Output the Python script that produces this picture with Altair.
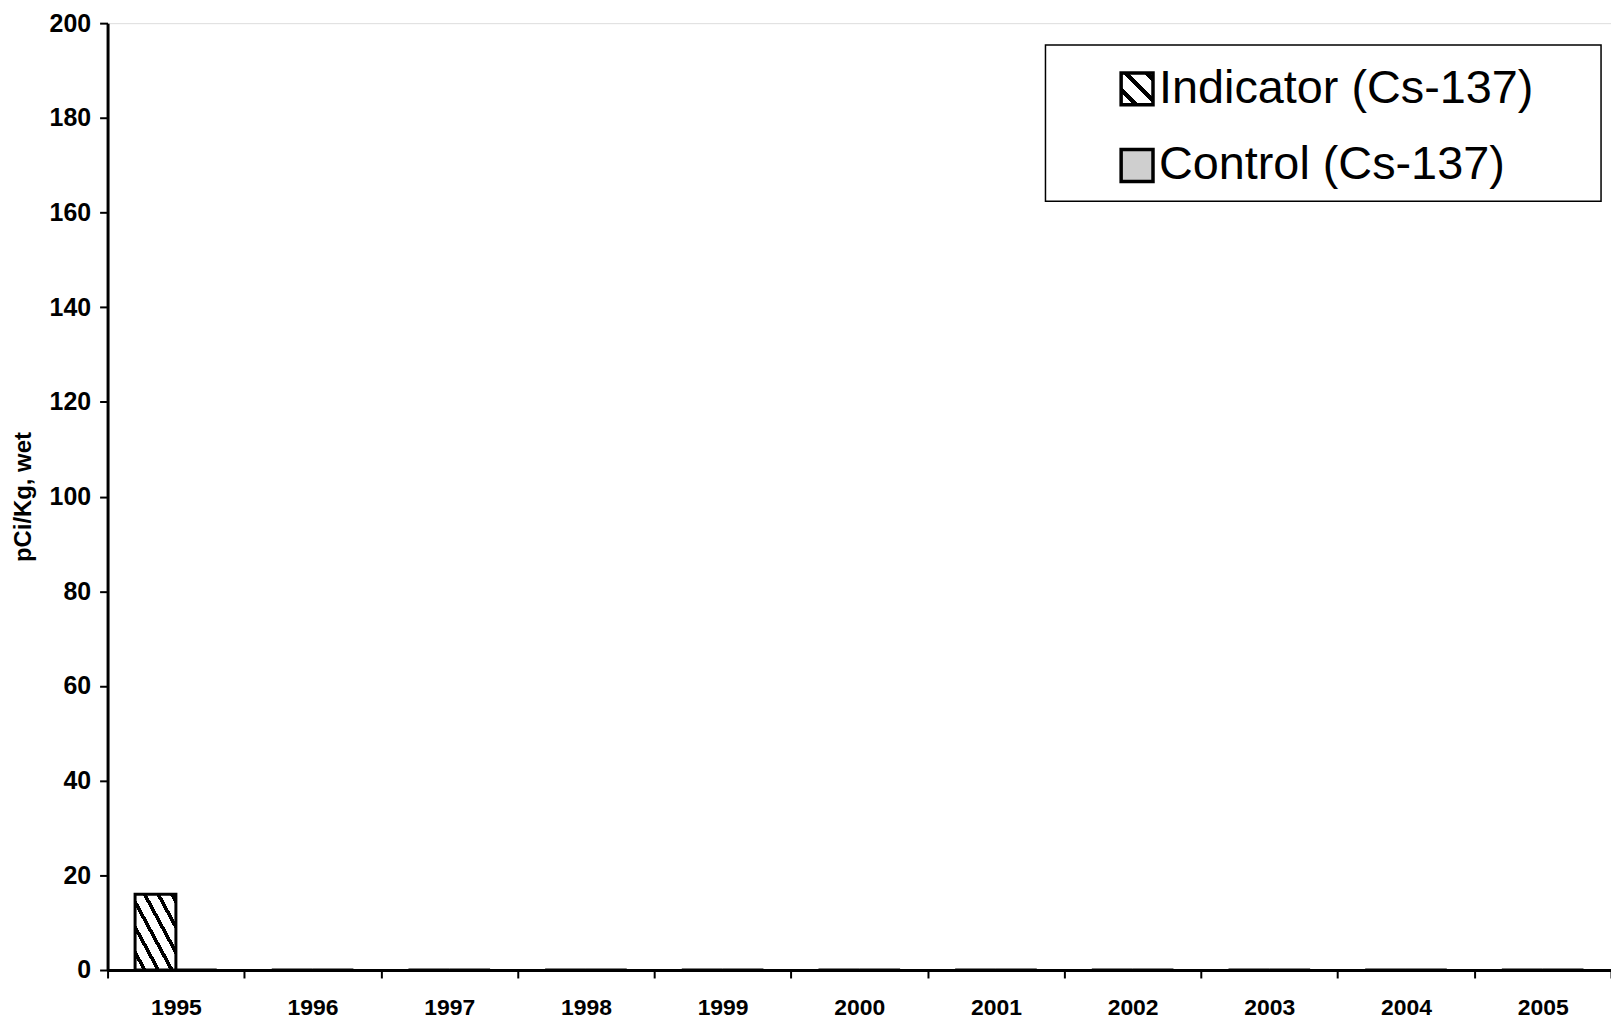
import altair as alt
import pandas as pd

years = ["1995", "1996", "1997", "1998", "1999", "2000", "2001", "2002", "2003", "2004", "2005"]
indicator = [16, 0, 0, 0, 0, 0, 0, 0, 0, 0, 0]
control = [0, 0, 0, 0, 0, 0, 0, 0, 0, 0, 0]
series_names = ["Indicator (Cs-137)", "Control (Cs-137)"]
y_ticks = [0, 20, 40, 60, 80, 100, 120, 140, 160, 180, 200]

rows = []
for i, yr in enumerate(years):
    rows.append({"year": yr, "series": series_names[0], "value": indicator[i]})
    rows.append({"year": yr, "series": series_names[1], "value": control[i]})
df = pd.DataFrame(rows)

W, H = 1510, 951
FONT = "Liberation Sans"


def stripes(n):
    stops = []
    for k in range(n):
        a = k / n
        b = (k + 0.55) / n
        c = (k + 0.85) / n
        stops += [
            {"offset": a, "color": "#ffffff"},
            {"offset": b, "color": "#ffffff"},
            {"offset": b, "color": "#000000"},
            {"offset": c, "color": "#000000"},
            {"offset": c, "color": "#ffffff"},
        ]
    stops.append({"offset": 1, "color": "#ffffff"})
    return {"gradient": "linear", "x1": 0, "y1": 1, "x2": 1, "y2": 0, "stops": stops}


hatch_bar = stripes(6)
hatch_leg = stripes(3)
dots = "#cfcfcf"

bars = alt.Chart(df).mark_bar(stroke="black", strokeWidth=3).encode(
    x=alt.X(
        "year:N",
        sort=years,
        scale=alt.Scale(paddingInner=0, paddingOuter=0),
        axis=alt.Axis(
            title=None,
            labelAngle=0,
            labelFont=FONT,
            labelFontWeight="bold",
            labelFontSize=23,
            labelColor="black",
            labelPadding=19,
            tickBand="extent",
            tickSize=8,
            tickColor="black",
            tickWidth=2,
            domainColor="black",
            domainWidth=3,
        ),
    ),
    xOffset=alt.XOffset(
        "series:N", sort=series_names, scale=alt.Scale(paddingInner=0, paddingOuter=0.674)
    ),
    y=alt.Y(
        "value:Q",
        scale=alt.Scale(domain=[0, 200], nice=False),
        axis=alt.Axis(
            title="pCi/Kg, wet",
            titleFont=FONT,
            titleFontWeight="bold",
            titleFontSize=24,
            titleColor="black",
            titlePadding=14,
            values=y_ticks,
            labelFont=FONT,
            labelFontWeight="bold",
            labelFontSize=25,
            labelColor="black",
            labelPadding=9,
            tickSize=8,
            tickColor="black",
            tickWidth=2,
            domainColor="black",
            domainWidth=3,
            grid=False,
        ),
    ),
    fill=alt.condition(
        alt.datum.series == series_names[0], alt.value(hatch_bar), alt.value(dots)
    ),
)

# Legend drawn as marks
leg_df = pd.DataFrame({"series": series_names})

leg_box = alt.Chart(leg_df).transform_filter(
    alt.datum.series == series_names[0]
).mark_rect(fill="white", stroke="black", strokeWidth=1.5).encode(
    x=alt.value(942), x2=alt.value(1500), y=alt.value(22), y2=alt.value(179)
)

sym1 = alt.Chart(leg_df).transform_filter(
    alt.datum.series == series_names[0]
).mark_rect(stroke="black", strokeWidth=3.5, fill=hatch_leg).encode(
    x=alt.value(1018), x2=alt.value(1050), y=alt.value(50), y2=alt.value(82)
)
sym2 = alt.Chart(leg_df).transform_filter(
    alt.datum.series == series_names[1]
).mark_rect(stroke="black", strokeWidth=3.5, fill=dots).encode(
    x=alt.value(1018), x2=alt.value(1050), y=alt.value(127), y2=alt.value(159)
)
txt1 = alt.Chart(leg_df).transform_filter(
    alt.datum.series == series_names[0]
).mark_text(align="left", baseline="middle", font=FONT, fontSize=47, color="black").encode(
    text="series:N", x=alt.value(1056), y=alt.value(66)
)
txt2 = alt.Chart(leg_df).transform_filter(
    alt.datum.series == series_names[1]
).mark_text(align="left", baseline="middle", font=FONT, fontSize=47, color="black").encode(
    text="series:N", x=alt.value(1056), y=alt.value(143)
)

chart = alt.layer(bars, leg_box, sym1, sym2, txt1, txt2).properties(
    width=W,
    height=H,
    autosize=alt.AutoSizeParams(type="none"),
    padding={"left": 100, "top": 13, "right": 0, "bottom": 50},
).configure_view(stroke="black", strokeWidth=3).configure(background="white")

chart.save("out.html", embed_options={"renderer": "svg", "actions": False})
